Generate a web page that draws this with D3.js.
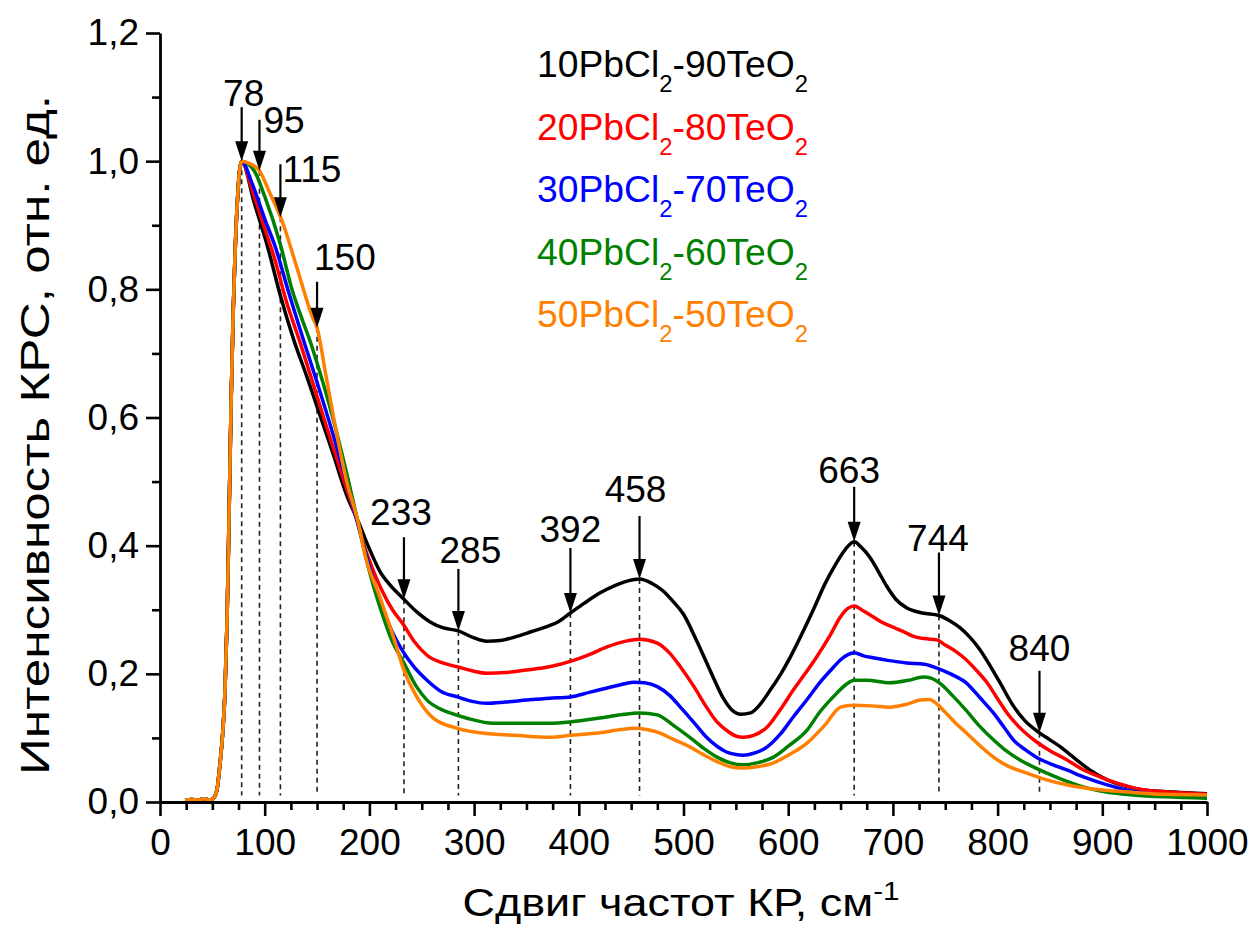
<!DOCTYPE html>
<html>
<head>
<meta charset="utf-8">
<script src="https://cdn.jsdelivr.net/npm/d3@7"></script>
<style>
  body { margin: 0; background: #fff; }
  svg { display: block; }
  text { font-family: "Liberation Sans", Arial, sans-serif; fill: #000; }
</style>
</head>
<body>
<svg id="chart" width="1251" height="929"></svg>
<script>
// Raman spectra of PbCl2–TeO2 glasses, normalised to the 78 cm-1 band.
// Each point: [Raman shift (cm-1), relative intensity].

// Common low-frequency edge (filter cut-off) shared by all spectra
const onset = [[24,0.003],[30,0.004],[36,0.003],[42,0.005],[48,0.003],[52,0.008],[55,0.025],[57,0.055],
  [60,0.11],[62,0.17],[64,0.28],[66,0.45],[68,0.63],[70,0.77],[72,0.87],[74,0.94],[76,0.985]];

const pb10 = [[78,1.0],[90,0.935],[103,0.865],[115,0.79],[128,0.72],[140,0.665],[150,0.617],[165,0.545],
  [178,0.48],[190,0.435],[200,0.395],[210,0.36],[220,0.338],[232,0.318],[245,0.297],[258,0.281],[270,0.272],
  [285,0.267],[300,0.256],[312,0.251],[325,0.252],[340,0.258],[355,0.266],[370,0.274],[380,0.281],[392,0.295],
  [405,0.31],[420,0.326],[435,0.338],[447,0.345],[458,0.348],[470,0.341],[480,0.33],[490,0.313],[500,0.293],
  [513,0.25],[528,0.196],[538,0.162],[546,0.144],[555,0.137],[564,0.139],[572,0.15],[583,0.175],[593,0.2],
  [602,0.226],[613,0.262],[624,0.3],[635,0.34],[645,0.37],[655,0.395],[663,0.406],[670,0.397],[678,0.382],
  [686,0.36],[694,0.337],[703,0.316],[713,0.303],[728,0.295],[744,0.291],[755,0.282],[764,0.272],[773,0.258],
  [783,0.238],[793,0.212],[802,0.187],[815,0.15],[826,0.127],[840,0.108],[850,0.097],[860,0.086],[870,0.073],
  [880,0.06],[890,0.048],[898,0.04],[910,0.031],[929,0.022],[950,0.017],[975,0.015],[1000,0.013]];

const pb20 = [[78,1.0],[88,0.955],[100,0.895],[110,0.845],[120,0.785],[134,0.716],[150,0.633],[165,0.555],
  [178,0.49],[188,0.44],[196,0.395],[204,0.36],[212,0.33],[222,0.3],[232,0.278],[243,0.25],[255,0.229],
  [270,0.217],[284,0.211],[300,0.204],[312,0.201],[330,0.202],[350,0.206],[372,0.211],[395,0.221],[410,0.23],
  [427,0.242],[445,0.251],[458,0.254],[475,0.248],[487,0.232],[497,0.211],[510,0.18],[522,0.148],[532,0.125],
  [541,0.112],[550,0.103],[557,0.101],[567,0.104],[580,0.117],[592,0.143],[605,0.175],[616,0.2],[627,0.226],
  [640,0.26],[650,0.289],[657,0.302],[663,0.306],[672,0.298],[681,0.289],[690,0.28],[700,0.273],[710,0.266],
  [719,0.259],[730,0.255],[742,0.253],[750,0.245],[760,0.235],[770,0.222],[780,0.205],[790,0.186],[800,0.161],
  [809,0.139],[820,0.118],[837,0.094],[850,0.08],[866,0.066],[880,0.052],[898,0.039],[915,0.029],[936,0.02],
  [960,0.016],[980,0.014],[1000,0.012]];

const pb30 = [[78,1.0],[88,0.965],[100,0.91],[111,0.862],[122,0.8],[131,0.752],[138,0.716],[150,0.655],
  [165,0.575],[178,0.5],[188,0.44],[196,0.39],[205,0.34],[214,0.295],[222,0.265],[232,0.235],[243,0.21],
  [255,0.19],[268,0.173],[284,0.164],[298,0.157],[312,0.154],[330,0.156],[350,0.159],[372,0.162],[392,0.164],
  [410,0.171],[427,0.178],[440,0.183],[452,0.187],[463,0.186],[475,0.18],[487,0.166],[497,0.148],[510,0.124],
  [522,0.101],[532,0.087],[541,0.078],[550,0.074],[557,0.073],[567,0.076],[580,0.086],[592,0.105],[605,0.133],
  [618,0.16],[630,0.186],[642,0.208],[650,0.222],[657,0.23],[663,0.233],[672,0.228],[681,0.225],[695,0.221],
  [713,0.217],[730,0.215],[742,0.209],[755,0.2],[770,0.186],[783,0.163],[796,0.139],[806,0.117],[815,0.097],
  [826,0.082],[837,0.07],[850,0.06],[866,0.05],[884,0.038],[904,0.027],[925,0.018],[950,0.012],[975,0.009],
  [1000,0.008]];

const pb40 = [[78,1.0],[90,0.985],[100,0.945],[115,0.87],[126,0.8],[136,0.752],[144,0.716],[150,0.685],
  [165,0.6],[178,0.515],[190,0.43],[200,0.36],[213,0.29],[222,0.25],[232,0.22],[245,0.18],[255,0.159],
  [268,0.145],[277,0.139],[295,0.13],[318,0.123],[340,0.123],[372,0.123],[392,0.125],[420,0.131],[440,0.136],
  [458,0.139],[475,0.136],[490,0.12],[506,0.101],[520,0.083],[532,0.07],[545,0.061],[557,0.058],[570,0.061],
  [586,0.07],[600,0.087],[618,0.112],[630,0.14],[643,0.164],[655,0.183],[663,0.19],[675,0.19],[697,0.186],
  [715,0.19],[729,0.195],[737,0.193],[745,0.185],[757,0.166],[770,0.143],[783,0.118],[796,0.097],[808,0.08],
  [821,0.066],[835,0.054],[847,0.045],[865,0.033],[885,0.022],[905,0.015],[929,0.011],[960,0.008],[1000,0.006]];

const pb50 = [[78,1.0],[86,0.996],[95,0.985],[105,0.95],[117,0.905],[130,0.838],[146,0.755],[150,0.74],
  [158,0.67],[165,0.607],[178,0.502],[191,0.424],[194,0.398],[210,0.32],[226,0.242],[232,0.21],[245,0.165],
  [261,0.131],[284,0.115],[318,0.106],[340,0.104],[372,0.101],[392,0.104],[420,0.108],[440,0.113],[452,0.115],
  [465,0.113],[475,0.109],[490,0.098],[506,0.086],[520,0.073],[535,0.061],[545,0.055],[557,0.053],[570,0.055],
  [586,0.061],[600,0.073],[618,0.092],[635,0.12],[650,0.148],[662,0.151],[680,0.15],[697,0.148],[712,0.152],
  [726,0.159],[735,0.16],[742,0.153],[750,0.14],[760,0.123],[770,0.108],[783,0.088],[796,0.07],[810,0.056],
  [828,0.045],[846,0.035],[866,0.027],[898,0.019],[930,0.015],[960,0.012],[1000,0.011]];

const spectra = [pb10, pb20, pb30, pb40, pb50];
const seriesColors = ["#000000", "#ff0000", "#0000ff", "#008000", "#ff8000"];
// legend text pieces: [main, subscript, main, subscript]
const legendLabels = [
  ["10PbCl", "2", "-90TeO", "2"],
  ["20PbCl", "2", "-80TeO", "2"],
  ["30PbCl", "2", "-70TeO", "2"],
  ["40PbCl", "2", "-60TeO", "2"],
  ["50PbCl", "2", "-50TeO", "2"]
];

// Band positions marked with arrows, and the spectrum each arrow points at
const bands = [78, 95, 115, 150, 233, 285, 392, 458, 663, 744, 840];
const bandOnSeries = [0, 4, 4, 4, 0, 0, 0, 0, 0, 0, 0];

const xTicks = [0, 100, 200, 300, 400, 500, 600, 700, 800, 900, 1000];
const yTicks = [0, 0.2, 0.4, 0.6, 0.8, 1.0, 1.2];

// ---------- layout ----------
const svg = d3.select("#chart");
const plotL = 160, plotR = 1207, plotT = 33, plotB = 802;
const x = d3.scaleLinear().domain([0, 1000]).range([plotL, plotR]);
const y = d3.scaleLinear().domain([0, 1.2]).range([plotB, plotT]);
const labelFont = 37;

// arrow/label placement per band (pixels)
const bandLayout = {
  78:  { len: 54, anchor: "middle", dx: 2,  dy: -1 },
  95:  { len: 51, anchor: "start",  dx: 4,  dy: 13 },
  115: { len: 53, anchor: "start",  dx: 2,  dy: 18 },
  150: { len: 46, anchor: "start",  dx: -3, dy: -12 },
  233: { len: 62, anchor: "middle", dx: -3, dy: -12 },
  285: { len: 62, anchor: "middle", dx: 12, dy: -6 },
  392: { len: 65, anchor: "middle", dx: 0,  dy: -6 },
  458: { len: 63, anchor: "middle", dx: -4, dy: -14 },
  663: { len: 55, anchor: "middle", dx: -5, dy: -4 },
  744: { len: 63, anchor: "middle", dx: -1, dy: -2 },
  840: { len: 62, anchor: "middle", dx: 0,  dy: -10 }
};

function valueAt(series, xv) {
  const full = onset.concat(series);
  for (let i = 1; i < full.length; i++) {
    if (full[i][0] >= xv) {
      const [x0, y0] = full[i - 1], [x1, y1] = full[i];
      return y0 + (y1 - y0) * (xv - x0) / (x1 - x0);
    }
  }
  return full[full.length - 1][1];
}

// ---------- dashed guide lines (under the spectra) ----------
const guides = svg.append("g");
bands.forEach((b, i) => {
  const tipV = valueAt(spectra[bandOnSeries[i]], b);
  const px = x(b), py = y(tipV);
  guides.append("line")
    .attr("x1", px).attr("x2", px)
    .attr("y1", py).attr("y2", y(0.01))
    .attr("stroke", "#222").attr("stroke-width", 1.6)
    .attr("stroke-dasharray", "5,4");
});

// ---------- spectra ----------
const line = d3.line()
  .x(d => x(d[0])).y(d => y(d[1]))
  .curve(d3.curveMonotoneX);

svg.append("g").selectAll("path")
  .data(spectra)
  .join("path")
  .attr("d", d => line(onset.concat(d)))
  .attr("fill", "none")
  .attr("stroke", (d, i) => seriesColors[i])
  .attr("stroke-width", 3.5)
  .attr("stroke-linejoin", "round");

// ---------- arrows with band labels ----------
const arrows = svg.append("g");
bands.forEach((b, i) => {
  const lay = bandLayout[b];
  const tipV = valueAt(spectra[bandOnSeries[i]], b);
  const px = x(b), tipY = y(tipV), topY = tipY - lay.len;
  const headL = 20, headW = 6.5;
  arrows.append("line")
    .attr("x1", px).attr("x2", px)
    .attr("y1", topY).attr("y2", tipY - headL + 2)
    .attr("stroke", "#000").attr("stroke-width", 2.2);
  arrows.append("path")
    .attr("d", `M${px - headW},${tipY - headL} L${px + headW},${tipY - headL} L${px},${tipY} Z`)
    .attr("fill", "#000");
  arrows.append("text")
    .attr("x", px + lay.dx)
    .attr("y", topY + lay.dy)
    .attr("text-anchor", lay.anchor)
    .attr("font-size", labelFont)
    .text(b);
});

// ---------- axes ----------
const fmt = d => d3.format(".1f")(d).replace(".", ",");

const xAxis = svg.append("g").attr("transform", `translate(0,${plotB})`)
  .call(d3.axisBottom(x).tickValues(xTicks).tickSize(14).tickSizeOuter(0).tickPadding(13)
    .tickFormat(d3.format("d")));
const xMinor = svg.append("g").attr("transform", `translate(0,${plotB})`)
  .call(d3.axisBottom(x).tickValues(d3.range(25, 1000, 25).filter(v => v % 100 !== 0)).tickSize(8).tickFormat(""));
xMinor.select(".domain").remove();

const yAxis = svg.append("g").attr("transform", `translate(${plotL},0)`)
  .call(d3.axisLeft(y).tickValues(yTicks).tickSize(14).tickSizeOuter(0).tickPadding(7).tickFormat(fmt));
const yMinor = svg.append("g").attr("transform", `translate(${plotL},0)`)
  .call(d3.axisLeft(y).tickValues([0.1, 0.3, 0.5, 0.7, 0.9, 1.1]).tickSize(8).tickFormat(""));
yMinor.select(".domain").remove();

svg.selectAll(".domain").attr("stroke", "#000").attr("stroke-width", 2.8);
svg.selectAll(".tick line").attr("stroke", "#000").attr("stroke-width", 2.6);
svg.selectAll(".tick text").attr("font-size", labelFont)
  .attr("font-family", "Liberation Sans, Arial, sans-serif").attr("fill", "#000");

// axis titles
svg.append("text")
  .attr("transform", `translate(49,${(95 + 775) / 2}) rotate(-90)`)
  .attr("text-anchor", "middle")
  .attr("font-size", 40)
  .attr("textLength", 680)
  .attr("lengthAdjust", "spacingAndGlyphs")
  .text("Интенсивность КРС, отн. ед.");

const xTitle = svg.append("text")
  .attr("x", 681).attr("y", 916)
  .attr("text-anchor", "middle")
  .attr("font-size", 38)
  .attr("textLength", 437)
  .attr("lengthAdjust", "spacingAndGlyphs");
xTitle.append("tspan").text("Сдвиг частот КР, см");
xTitle.append("tspan").attr("font-size", 25).attr("dy", -16).text("-1");

// ---------- legend ----------
const legend = svg.append("g");
legendLabels.forEach((parts, i) => {
  const t = legend.append("text")
    .attr("x", 537).attr("y", 77 + i * 62.5)
    .attr("font-size", 36)
    .attr("textLength", 271)
    .attr("lengthAdjust", "spacingAndGlyphs")
    .style("fill", seriesColors[i]);
  t.append("tspan").text(parts[0]);
  t.append("tspan").attr("font-size", 23).attr("dy", 15).text(parts[1]);
  t.append("tspan").attr("dy", -15).text(parts[2]);
  t.append("tspan").attr("font-size", 23).attr("dy", 15).text(parts[3]);
});
</script>
</body>
</html>
